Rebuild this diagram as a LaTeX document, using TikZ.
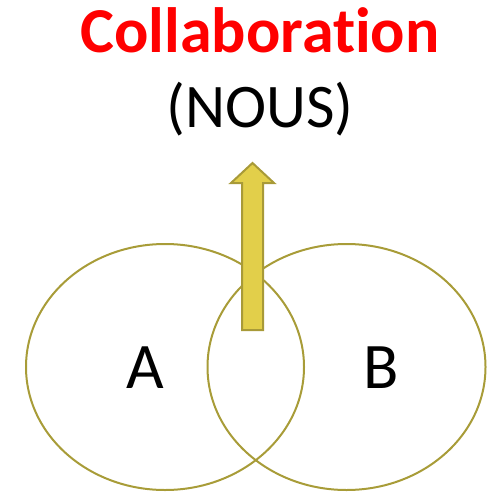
\documentclass[tikz,border=0pt]{standalone}
\usepackage{fontspec}
\setmainfont{Carlito}[Ligatures=NoCommon]
\usetikzlibrary{shapes.geometric}
\definecolor{ringcol}{HTML}{A89C38}
\definecolor{arrowfill}{HTML}{E2CF4A}
\definecolor{arrowline}{HTML}{A89A38}
\definecolor{titlered}{HTML}{FF0000}
\tikzset{
  ring/.style={draw=ringcol, line width=2pt, ellipse, inner sep=0pt, minimum width=278pt, minimum height=246pt},
  lbl/.style={inner sep=0pt, font=\fontsize{65}{70}\selectfont}
}
\begin{document}
\begin{tikzpicture}[x=1pt,y=-1pt]
\useasboundingbox (0,0) rectangle (490,492);
\node[ring] (ea) at (165,367) {};
\node[ring] (eb) at (346.5,367) {};
\node[lbl, anchor=base] (la) at (145.5,388) {A};
\node[lbl, anchor=base] (lb) at (381,388) {B};
\node[anchor=base, inner sep=0pt, text=titlered, font=\bfseries\fontsize{64}{70}\selectfont] (title) at (260,53) {Collaboration};
\node[anchor=base, inner sep=0pt, font=\fontsize{62}{66}\selectfont] (sub) at (260,128) {(NOUS)};
\draw[draw=arrowline, fill=arrowfill, line width=2pt, line join=miter]
  (242,330) -- (242,183) -- (231,183) -- (252.5,163) -- (274,183) -- (263,183) -- (263,330) -- cycle;
\end{tikzpicture}
\end{document}
